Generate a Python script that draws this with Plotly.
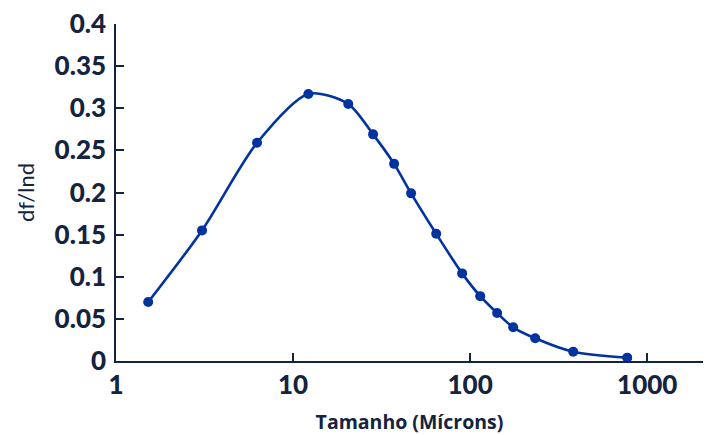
import plotly.graph_objects as go

size_microns = [1.52, 3.06, 6.26, 12.2, 20.5, 28.3, 37.2, 46.4, 64.3, 90.1, 114, 142, 175, 233, 382, 771]
df_lnd = [0.070, 0.155, 0.259, 0.317, 0.305, 0.269, 0.234, 0.199, 0.151, 0.104, 0.077, 0.057, 0.040, 0.027, 0.011, 0.004]

y_ticks = [0, 0.05, 0.1, 0.15, 0.2, 0.25, 0.3, 0.35, 0.4]
y_tick_text = ["0", "0.05", "0.1", "0.15", "0.2", "0.25", "0.3", "0.35", "0.4"]
x_ticks = [1, 10, 100, 1000]
x_tick_text = ["1", "10", "100", "1000"]

navy = "#14233f"
blue = "#0033a0"

fig = go.Figure()
fig.add_trace(go.Scatter(
    x=size_microns, y=df_lnd, mode="lines+markers",
    line=dict(color=blue, width=2.6, shape="spline", smoothing=0.8),
    marker=dict(color=blue, size=10),
    showlegend=False, cliponaxis=False,
))

fig.update_layout(
    width=707, height=435,
    margin=dict(l=116, r=4, t=24, b=74),
    plot_bgcolor="white", paper_bgcolor="white",
    font=dict(family="Lato", color=navy),
)
fig.update_xaxes(
    type="log", range=[0, 3.315], automargin=False,
    tickvals=x_ticks, ticktext=x_tick_text,
    ticks="inside", ticklen=8, tickwidth=1.5, tickcolor=navy,
    showline=True, linecolor=navy, linewidth=1.5,
    showgrid=False, zeroline=False,
    tickfont=dict(family="Lato", size=26, color=navy, weight=900),
    title=dict(text="Tamanho (Mícrons)", font=dict(family="Open Sans", size=19.5, color=navy, weight="bold"), standoff=19),
)
fig.update_yaxes(
    range=[0, 0.4], automargin=False,
    tickvals=y_ticks, ticktext=y_tick_text,
    ticks="inside", ticklen=8, tickwidth=1.5, tickcolor=navy,
    showline=True, linecolor=navy, linewidth=1.5,
    showgrid=False, zeroline=False,
    ticklabelstandoff=3,
    tickfont=dict(family="Lato", size=26, color=navy, weight=900),
    title=dict(text="df/lnd", font=dict(family="Lato", size=22, color=navy), standoff=14),
)

fig.write_html("out.html", config={"displayModeBar": False},
               post_script="document.body.style.margin='0';")
